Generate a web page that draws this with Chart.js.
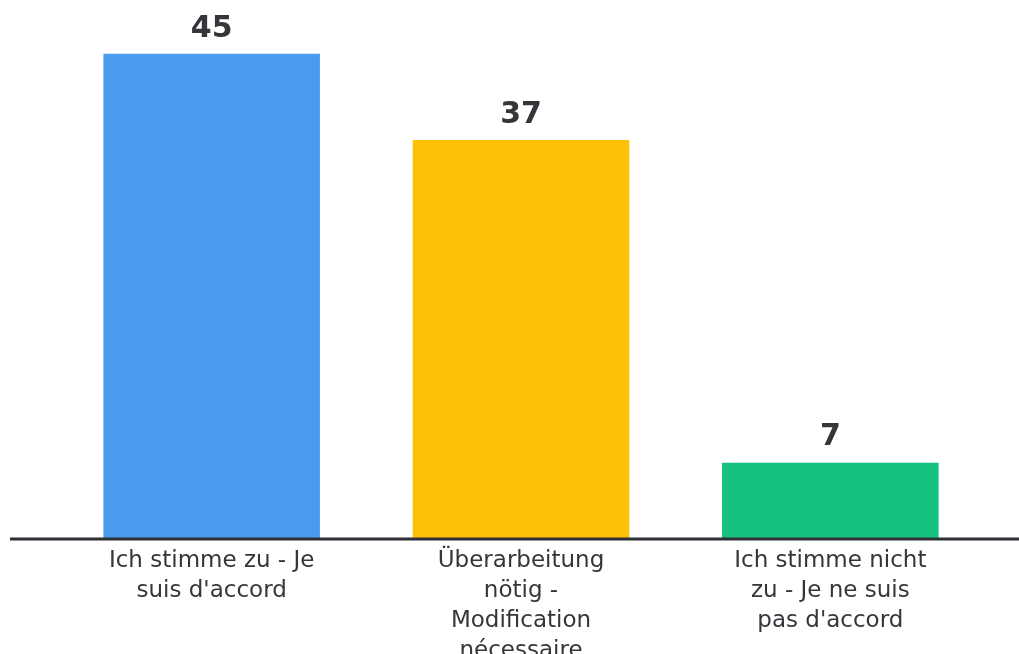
<!DOCTYPE html>
<html>
<head>
<meta charset="utf-8">
<script src="https://cdn.jsdelivr.net/npm/chart.js@4"></script>
<style>
  html, body { margin: 0; padding: 0; background: #fff; }
  #wrap { width: 1019px; height: 654px; position: relative; }
</style>
</head>
<body>
<div id="wrap"><canvas id="umfrageChart"></canvas></div>
<script>
// Antworten der Umfrage
var categories = [
  ["Ich stimme zu - Je", "suis d'accord"],
  ["Überarbeitung", "nötig -", "Modification", "nécessaire"],
  ["Ich stimme nicht", "zu - Je ne suis", "pas d'accord"]
];
var votes = [45, 37, 7];
var barColors = ["#4a9af0", "#ffc107", "#17c27f"];

var textColor = "#35363b";
var fontFamily = "'DejaVu Sans', sans-serif";

// Zahl über jedem Balken
var valueLabels = {
  id: 'valueLabels',
  afterDatasetsDraw(chart) {
    const ctx = chart.ctx;
    const meta = chart.getDatasetMeta(0);
    ctx.save();
    ctx.fillStyle = textColor;
    ctx.font = "bold 30px " + fontFamily;
    ctx.textAlign = 'center';
    ctx.textBaseline = 'middle';
    meta.data.forEach((bar, i) => {
      ctx.fillText(chart.data.datasets[0].data[i], bar.x, bar.y - 25);
    });
    ctx.restore();
  }
};

// Grundlinie über die ganze Breite
var baseLine = {
  id: 'baseLine',
  afterDatasetsDraw(chart) {
    const ctx = chart.ctx;
    const y = chart.scales.y.getPixelForValue(0);
    ctx.save();
    ctx.strokeStyle = "#2f3036";
    ctx.lineWidth = 3;
    ctx.beginPath();
    ctx.moveTo(10, y + 1);
    ctx.lineTo(chart.width, y + 1);
    ctx.stroke();
    ctx.restore();
  }
};

var ctx = document.getElementById('umfrageChart').getContext('2d');
var myChart = new Chart(ctx, {
  type: 'bar',
  data: {
    labels: categories,
    datasets: [{
      data: votes,
      backgroundColor: barColors,
      borderWidth: 0,
      barPercentage: 0.7,
      categoryPercentage: 1
    }]
  },
  options: {
    responsive: true,
    maintainAspectRatio: false,
    animation: false,
    layout: { padding: { left: 57, right: 34, top: 0, bottom: 0 } },
    plugins: {
      legend: { display: false },
      tooltip: { enabled: false }
    },
    scales: {
      x: {
        grid: { display: false },
        border: { display: false },
        ticks: {
          color: textColor,
          font: { family: fontFamily, size: 23, lineHeight: 1.3 },
          padding: 0,
          maxRotation: 0,
          autoSkip: false
        },
        afterFit: function(scale) { scale.height = 116; }
      },
      y: {
        display: false,
        min: 0,
        max: 50
      }
    }
  },
  plugins: [valueLabels, baseLine]
});
</script>
</body>
</html>
